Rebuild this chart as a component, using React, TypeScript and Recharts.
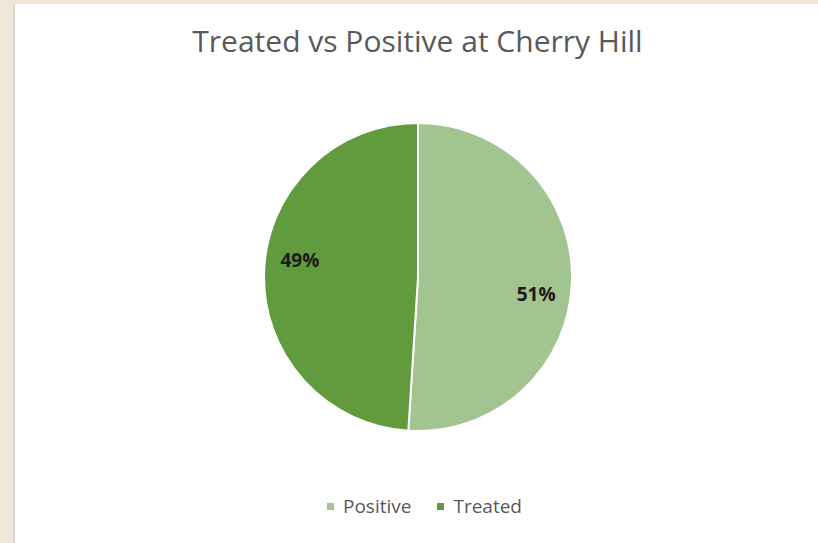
import { PieChart, Pie, Cell, Legend } from 'recharts';

const categories = ['Positive', 'Treated'];
const counts = [51, 49];
const sliceColors = ['#A1C490', '#619B3D'];

const chartTitle = 'Treated vs Positive at Cherry Hill';
const fontFamily = '"Open Sans", "Noto Sans", sans-serif';

const pieData = categories.map((name, i) => ({ name, value: counts[i] }));

const RADIAN = Math.PI / 180;

function renderLabel(props: any) {
  const { cx, cy, midAngle, outerRadius, percent } = props;
  // excel "best fit" puts labels a touch clockwise of the mid angle
  const a = (midAngle - 6.5) * RADIAN;
  const r = outerRadius * 0.775;
  const x = cx + r * Math.cos(a);
  const y = cy - r * Math.sin(a);
  return (
    <text
      x={x}
      y={y}
      textAnchor="middle"
      dominantBaseline="central"
      fill="#1a1a1a"
      fontSize={19}
      fontWeight={700}
      fontFamily={fontFamily}
    >
      {`${Math.round(percent * 100)}%`}
    </text>
  );
}

function renderLegend() {
  return (
    <div style={{ display: 'flex', justifyContent: 'center', gap: 26, paddingLeft: 16, fontFamily }}>
      {categories.map((name, i) => (
        <span key={name} style={{ display: 'flex', alignItems: 'center', gap: 9, color: '#595959', fontSize: 19 }}>
          <span style={{ display: 'inline-block', width: 7, height: 7, background: sliceColors[i] }} />
          {name}
        </span>
      ))}
    </div>
  );
}

export default function App() {
  return (
    <div style={{ position: 'relative', width: 818, height: 543, background: '#F1E7D6', overflow: 'hidden' }}>
      <style>{'body{margin:0}'}</style>
      <div
        style={{
          position: 'absolute',
          left: 13,
          top: 3,
          width: 805,
          height: 540,
          background: '#fff',
          borderLeft: '2px solid #DADADA',
          borderTop: '1px solid #E6E6E6',
        }}
      >
        <div
          style={{
            position: 'absolute',
            left: 0,
            right: 0,
            top: 22,
            textAlign: 'center',
            fontFamily,
            fontSize: 30,
            lineHeight: '30px',
            color: '#595959',
          }}
        >
          {chartTitle}
        </div>
        <PieChart
          width={803}
          height={539}
          margin={{ top: 0, right: 0, bottom: 0, left: 0 }}
          style={{ position: 'absolute', left: 0, top: 0 }}
        >
          <Pie
            data={pieData}
            dataKey="value"
            nameKey="name"
            cx={403}
            cy={273}
            outerRadius={154}
            startAngle={90}
            endAngle={-270}
            stroke="#fff"
            strokeWidth={2}
            label={renderLabel}
            labelLine={false}
            isAnimationActive={false}
          >
            {pieData.map((d, i) => (
              <Cell key={d.name} fill={sliceColors[i]} />
            ))}
          </Pie>
          <Legend
            content={renderLegend}
            verticalAlign="bottom"
            wrapperStyle={{ bottom: 24 }}
          />
        </PieChart>
      </div>
    </div>
  );
}
